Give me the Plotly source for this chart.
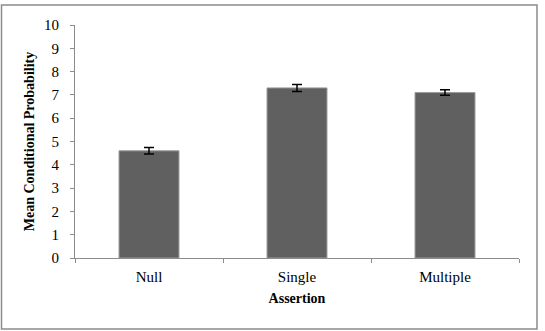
import plotly.graph_objects as go

categories = ["Null", "Single", "Multiple"]
means = [4.6, 7.3, 7.1]
errors = [0.14, 0.15, 0.12]
y_ticks = list(range(0, 11))

W, H = 545, 331
L, R, T, B = 75, 26, 25, 73
pw, ph = W - L - R, H - T - B

def px_x(px):
    return (px - L) / pw

def px_y(py):
    return (H - B - py) / ph

fig = go.Figure()
fig.add_trace(go.Bar(
    x=categories, y=means, width=0.405,
    marker=dict(color="#606060", line=dict(color="#9a9a9a", width=1)),
    error_y=dict(type="data", array=errors, visible=True, color="black", thickness=1.5, width=5),
))

font_family = "Liberation Serif, Times New Roman, serif"
fs = 14
tfs = 15
fig.update_layout(
    width=W, height=H,
    margin=dict(l=L, r=R, t=T, b=B),
    paper_bgcolor="white", plot_bgcolor="white",
    font=dict(family=font_family, size=fs, color="black"),
    showlegend=False,
    bargap=0.6,
    xaxis=dict(
        showline=True, linecolor="#8c8c8c", linewidth=1,
        ticks="outside", tickson="boundaries", ticklen=4, tickcolor="#8c8c8c",
        tickfont=dict(family=font_family, size=tfs, color="black"),
        ticklabelstandoff=5,
        title=dict(text="<b>Assertion</b>", font=dict(family=font_family, size=fs, color="black"), standoff=9),
        showgrid=False,
    ),
    yaxis=dict(
        range=[0, 10], tickvals=y_ticks, showline=True, linecolor="#8c8c8c", linewidth=1,
        ticks="outside", ticklen=4, tickcolor="#8c8c8c",
        tickfont=dict(family=font_family, size=tfs, color="black"),
        ticklabelstandoff=8,
        title=dict(text="<b>Mean Conditional Probability</b>", font=dict(family=font_family, size=fs, color="black"), standoff=6),
        showgrid=False, zeroline=False,
    ),
    shapes=[dict(
        type="rect", xref="paper", yref="paper",
        x0=px_x(1.5), x1=px_x(537), y0=px_y(329), y1=px_y(5),
        line=dict(color="#8c8c8c", width=1.5), fillcolor="rgba(0,0,0,0)", layer="below",
    )],
)

fig.write_html("out.html")
